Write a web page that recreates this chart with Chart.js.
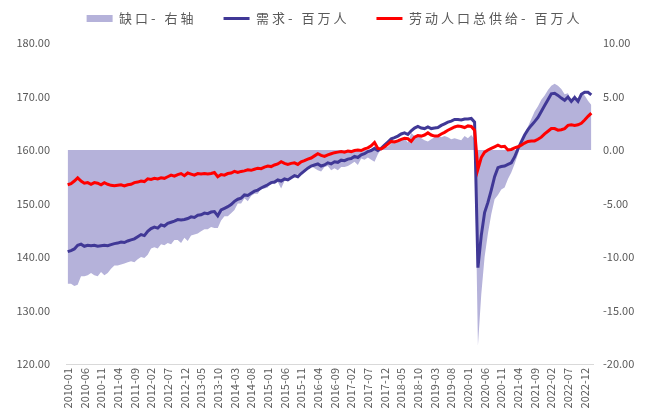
<!DOCTYPE html>
<html>
<head>
<meta charset="utf-8">
<script src="https://cdn.jsdelivr.net/npm/chart.js@4.4.0/dist/chart.umd.min.js"></script>
<style>
  html, body { margin: 0; padding: 0; background: #fff; }
  #c { display: block; }
</style>
</head>
<body>
<canvas id="c" width="649" height="419"></canvas>
<script>
// monthly, 2010-01 .. 2023-02
const months = [
  '2010-01','2010-02','2010-03','2010-04','2010-05','2010-06','2010-07','2010-08','2010-09','2010-10','2010-11','2010-12',
  '2011-01','2011-02','2011-03','2011-04','2011-05','2011-06','2011-07','2011-08','2011-09','2011-10','2011-11','2011-12',
  '2012-01','2012-02','2012-03','2012-04','2012-05','2012-06','2012-07','2012-08','2012-09','2012-10','2012-11','2012-12',
  '2013-01','2013-02','2013-03','2013-04','2013-05','2013-06','2013-07','2013-08','2013-09','2013-10','2013-11','2013-12',
  '2014-01','2014-02','2014-03','2014-04','2014-05','2014-06','2014-07','2014-08','2014-09','2014-10','2014-11','2014-12',
  '2015-01','2015-02','2015-03','2015-04','2015-05','2015-06','2015-07','2015-08','2015-09','2015-10','2015-11','2015-12',
  '2016-01','2016-02','2016-03','2016-04','2016-05','2016-06','2016-07','2016-08','2016-09','2016-10','2016-11','2016-12',
  '2017-01','2017-02','2017-03','2017-04','2017-05','2017-06','2017-07','2017-08','2017-09','2017-10','2017-11','2017-12',
  '2018-01','2018-02','2018-03','2018-04','2018-05','2018-06','2018-07','2018-08','2018-09','2018-10','2018-11','2018-12',
  '2019-01','2019-02','2019-03','2019-04','2019-05','2019-06','2019-07','2019-08','2019-09','2019-10','2019-11','2019-12',
  '2020-01','2020-02','2020-03','2020-04','2020-05','2020-06','2020-07','2020-08','2020-09','2020-10','2020-11','2020-12',
  '2021-01','2021-02','2021-03','2021-04','2021-05','2021-06','2021-07','2021-08','2021-09','2021-10','2021-11','2021-12',
  '2022-01','2022-02','2022-03','2022-04','2022-05','2022-06','2022-07','2022-08','2022-09','2022-10','2022-11','2022-12',
  '2023-01','2023-02'
];

// 缺口 (right axis)
const gap = [
  -12.5,-12.5,-12.7,-12.6,-11.8,-11.8,-11.7,-11.5,-11.7,-11.8,-11.4,-11.7,
  -11.5,-11.1,-10.8,-10.8,-10.7,-10.6,-10.5,-10.4,-10.5,-10.2,-10.0,-10.1,
  -9.8,-9.2,-9.1,-9.2,-8.8,-8.9,-8.7,-8.8,-8.4,-8.4,-8.7,-8.2,
  -8.5,-8.0,-7.9,-7.8,-7.6,-7.4,-7.4,-7.2,-7.3,-7.3,-6.6,-6.2,
  -6.2,-5.9,-5.6,-5.0,-5.0,-4.5,-4.8,-4.3,-4.1,-4.1,-3.6,-3.6,
  -3.5,-3.0,-3.2,-3.0,-3.6,-2.9,-2.9,-2.7,-2.4,-2.3,-2.2,-1.9,
  -1.7,-1.5,-1.7,-1.9,-2.0,-1.6,-1.5,-1.9,-1.7,-1.9,-1.6,-1.6,
  -1.5,-1.3,-1.1,-1.4,-0.8,-0.9,-0.7,-0.9,-1.1,-0.4,0.1,0.3,
  0.3,0.6,0.9,0.8,1.0,1.1,0.7,1.6,1.3,1.4,1.1,0.9,
  0.8,1.0,1.2,1.4,1.2,1.3,1.2,1.0,1.1,1.0,0.9,1.3,
  1.1,1.4,1.0,-18.3,-13.5,-10.0,-7.8,-6.0,-4.6,-4.2,-3.7,-3.5,
  -2.7,-2.1,-1.3,-0.4,0.6,1.5,2.2,2.9,3.6,4.1,4.7,5.1,
  5.6,6.0,6.2,6.0,5.7,5.2,5.3,4.5,5.2,4.5,5.3,5.1,
  4.6,4.2
];

// 需求 (百万人)
const demand = [
  141.0,141.2,141.5,142.2,142.4,142.0,142.2,142.1,142.2,142.0,142.1,142.2,
  142.1,142.3,142.5,142.6,142.8,142.7,143.0,143.2,143.4,143.8,144.2,144.0,
  144.8,145.3,145.6,145.4,146.0,145.8,146.3,146.5,146.7,147.0,146.9,147.0,
  147.2,147.5,147.4,147.8,147.9,148.2,148.1,148.4,148.5,147.7,148.8,149.1,
  149.4,149.8,150.4,150.8,151.0,151.6,151.5,151.9,152.3,152.5,152.9,153.2,
  153.5,153.9,154.0,154.4,154.2,154.6,154.4,154.8,155.2,155.0,155.6,156.1,
  156.6,157.0,157.2,157.4,157.0,157.2,157.6,157.4,157.8,157.7,158.1,158.0,
  158.3,158.4,158.8,158.6,159.1,159.3,159.7,159.9,160.3,159.9,160.3,160.9,
  161.5,162.1,162.3,162.6,163.0,163.2,162.9,163.6,164.1,164.4,164.1,164.0,
  164.3,164.0,164.1,164.2,164.6,164.9,165.2,165.4,165.7,165.7,165.6,165.8,
  165.8,165.9,165.2,138.0,144.0,148.3,150.2,152.5,155.0,156.7,156.9,157.0,
  157.3,157.6,158.7,160.2,161.5,162.8,163.8,164.6,165.3,166.1,167.2,168.3,
  169.4,170.5,170.6,170.2,169.7,169.3,169.9,169.1,169.8,169.1,170.4,170.8,
  170.8,170.3
];

// 劳动人口总供给 (百万人)
const supply = [
  153.5,153.7,154.2,154.8,154.2,153.8,153.9,153.6,153.9,153.8,153.5,153.9,
  153.6,153.4,153.3,153.4,153.5,153.3,153.5,153.6,153.9,154.0,154.2,154.1,
  154.6,154.5,154.7,154.6,154.8,154.7,155.0,155.3,155.1,155.4,155.6,155.2,
  155.7,155.5,155.3,155.6,155.5,155.6,155.5,155.6,155.8,155.0,155.4,155.3,
  155.6,155.7,156.0,155.8,156.0,156.1,156.3,156.2,156.4,156.6,156.5,156.8,
  157.0,156.9,157.2,157.4,157.8,157.5,157.3,157.5,157.6,157.3,157.8,158.0,
  158.3,158.5,158.9,159.3,159.0,158.8,159.1,159.3,159.5,159.6,159.7,159.6,
  159.8,159.7,159.9,160.0,159.9,160.2,160.4,160.8,161.4,160.3,160.2,160.6,
  161.1,161.6,161.5,161.7,162.0,162.2,162.1,161.6,162.4,162.7,162.6,162.8,
  163.2,162.8,162.6,162.6,163.0,163.3,163.7,164.0,164.3,164.5,164.4,164.2,
  164.5,164.4,163.7,156.4,158.6,159.6,160.0,160.3,160.6,160.9,160.6,160.7,
  160.0,160.1,160.4,160.6,160.9,161.3,161.6,161.7,161.7,162.0,162.4,163.0,
  163.5,164.0,164.0,163.7,163.8,164.0,164.6,164.7,164.6,164.7,165.0,165.6,
  166.3,166.9
];

const seriesNames = ['缺口- 右轴', '需求- 百万人', '劳动人口总供给- 百万人'];
const leftTicks = { min: 120, max: 180, step: 10 };
const rightTicks = { min: -20, max: 10, step: 5 };
const labelEvery = 5;

const grey = '#595959';
const font = '"Noto Sans CJK SC", "Noto Sans", sans-serif';

// legend in the original is letter-spaced, a bit right of centre and high above the plot
const legendTweak = {
  id: 'legendTweak',
  beforeLayout(chart) {
    const lg = chart.legend;
    if (!lg || lg._tweaked) return;
    lg._tweaked = true;
    const fit = lg.fit, draw = lg.draw;
    lg.fit = function () {
      this.ctx.save();
      this.ctx.letterSpacing = '3px';
      fit.call(this);
      this.ctx.restore();
      this.height = 43;
    };
    lg.draw = function () {
      this.ctx.save();
      this.ctx.letterSpacing = '3px';
      this.ctx.translate(10, -15);
      draw.call(this);
      this.ctx.restore();
    };
  }
};

new Chart(document.getElementById('c').getContext('2d'), {
  type: 'line',
  data: {
    labels: months,
    datasets: [
      {
        label: seriesNames[0], data: gap, yAxisID: 'y1',
        fill: 'origin', backgroundColor: '#b5b2da', borderColor: '#b5b2da',
        borderWidth: 0, pointRadius: 0, tension: 0, order: 3, pointStyle: 'rect'
      },
      {
        label: seriesNames[1], data: demand, yAxisID: 'y',
        borderColor: '#403896', backgroundColor: '#403896',
        borderWidth: 3, pointRadius: 0, tension: 0, order: 2, pointStyle: 'line'
      },
      {
        label: seriesNames[2], data: supply, yAxisID: 'y',
        borderColor: '#ff0000', backgroundColor: '#ff0000',
        borderWidth: 3, pointRadius: 0, tension: 0, order: 1, pointStyle: 'line'
      }
    ]
  },
  options: {
    responsive: false,
    animation: false,
    devicePixelRatio: 1,
    layout: { padding: 0 },
    plugins: {
      tooltip: { enabled: false },
      legend: {
        position: 'top',
        labels: {
          usePointStyle: true, pointStyleWidth: 26, boxHeight: 7,
          padding: 27, color: grey, font: { family: font, size: 13 },
          sort: (a, b) => a.datasetIndex - b.datasetIndex
        }
      }
    },
    scales: {
      x: {
        offset: true,
        grid: { display: false, drawTicks: false },
        border: { display: true, color: '#d9d9d9', width: 1 },
        ticks: {
          autoSkip: false, minRotation: 90, maxRotation: 90, padding: 4,
          color: grey, font: { family: font, size: 11 },
          callback: (v, i) => (i % labelEvery === 0 ? months[i] : null)
        },
        afterFit: s => { s.height = 55; }
      },
      y: {
        position: 'left', min: leftTicks.min, max: leftTicks.max,
        grid: { display: false, drawTicks: false },
        border: { display: false },
        ticks: {
          stepSize: leftTicks.step, padding: 16, color: grey,
          font: { family: font, size: 11 },
          callback: v => v.toFixed(2)
        },
        afterFit: s => { s.width = 66; }
      },
      y1: {
        position: 'right', min: rightTicks.min, max: rightTicks.max,
        grid: { display: false, drawTicks: false },
        border: { display: false },
        ticks: {
          stepSize: rightTicks.step, padding: 10, color: grey,
          font: { family: font, size: 11 },
          callback: v => v.toFixed(2)
        },
        afterFit: s => { s.width = 56; }
      }
    }
  },
  plugins: [legendTweak]
});
</script>
</body>
</html>
